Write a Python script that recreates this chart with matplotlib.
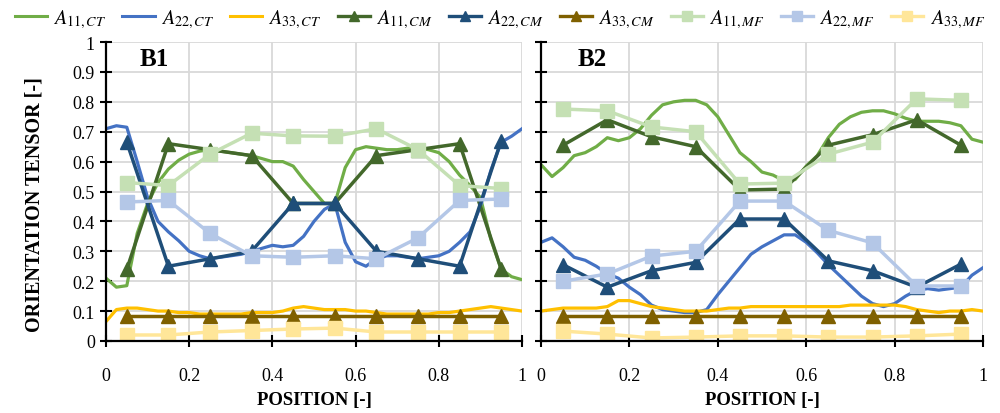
from __future__ import annotations

import matplotlib

matplotlib.use("Agg")
import matplotlib.pyplot as plt
import numpy as np
from matplotlib.lines import Line2D


# sampling positions of the continuous CT profiles and of the discrete CM/MF points
POS_CT = np.linspace(0.0, 1.0, 41)
POS_PTS = [0.05, 0.15, 0.25, 0.35, 0.45, 0.55, 0.65, 0.75, 0.85, 0.95]

# ---- B1 ----
B1_A11_CT = [0.21, 0.18, 0.185, 0.36, 0.46, 0.53, 0.575, 0.605, 0.625, 0.635, 0.64,
             0.635, 0.63, 0.625, 0.62, 0.61, 0.60, 0.60, 0.585, 0.54, 0.50, 0.46,
             0.46, 0.58, 0.64, 0.65, 0.645, 0.64, 0.64, 0.645, 0.645, 0.64, 0.63,
             0.60, 0.555, 0.52, 0.48, 0.34, 0.24, 0.215, 0.205]
B1_A22_CT = [0.71, 0.72, 0.715, 0.60, 0.48, 0.40, 0.365, 0.335, 0.30, 0.285, 0.275,
             0.28, 0.285, 0.29, 0.30, 0.31, 0.32, 0.315, 0.32, 0.35, 0.40, 0.44,
             0.46, 0.33, 0.265, 0.25, 0.275, 0.285, 0.285, 0.28, 0.275, 0.28, 0.285,
             0.30, 0.33, 0.365, 0.45, 0.57, 0.665, 0.685, 0.71]
B1_A33_CT = [0.065, 0.105, 0.11, 0.11, 0.105, 0.10, 0.10, 0.095, 0.095, 0.09, 0.09,
             0.09, 0.09, 0.09, 0.095, 0.095, 0.095, 0.10, 0.11, 0.115, 0.11, 0.105,
             0.105, 0.105, 0.10, 0.10, 0.095, 0.09, 0.09, 0.09, 0.09, 0.09, 0.095,
             0.095, 0.10, 0.105, 0.11, 0.115, 0.11, 0.105, 0.10]
B1_A11_CM = [0.24, 0.66, 0.64, 0.62, 0.46, 0.46, 0.62, 0.64, 0.66, 0.24]
B1_A22_CM = [0.665, 0.25, 0.275, 0.30, 0.46, 0.46, 0.30, 0.275, 0.25, 0.67]
B1_A33_CM = [0.085, 0.085, 0.085, 0.085, 0.085, 0.085, 0.085, 0.085, 0.085, 0.085]
B1_A11_MF = [0.53, 0.52, 0.625, 0.695, 0.686, 0.685, 0.71, 0.64, 0.52, 0.51]
B1_A22_MF = [0.465, 0.47, 0.36, 0.285, 0.28, 0.285, 0.275, 0.345, 0.47, 0.475]
B1_A33_MF = [0.02, 0.02, 0.03, 0.035, 0.04, 0.043, 0.03, 0.03, 0.03, 0.03]

# ---- B2 ----
B2_A11_CT = [0.59, 0.55, 0.58, 0.62, 0.63, 0.65, 0.68, 0.67, 0.68, 0.71, 0.755,
             0.79, 0.80, 0.805, 0.805, 0.79, 0.75, 0.69, 0.63, 0.60, 0.565, 0.555,
             0.535, 0.54, 0.585, 0.62, 0.68, 0.725, 0.75, 0.765, 0.77, 0.77, 0.76,
             0.745, 0.735, 0.735, 0.735, 0.73, 0.72, 0.675, 0.665]
B2_A22_CT = [0.33, 0.345, 0.315, 0.28, 0.27, 0.25, 0.225, 0.21, 0.18, 0.155, 0.12,
             0.105, 0.10, 0.095, 0.095, 0.105, 0.155, 0.20, 0.245, 0.29, 0.315, 0.335,
             0.355, 0.355, 0.33, 0.295, 0.255, 0.22, 0.185, 0.15, 0.125, 0.115, 0.125,
             0.15, 0.17, 0.175, 0.17, 0.175, 0.18, 0.22, 0.245]
B2_A33_CT = [0.10, 0.105, 0.11, 0.11, 0.11, 0.11, 0.115, 0.135, 0.135, 0.125, 0.115,
             0.11, 0.105, 0.10, 0.10, 0.10, 0.105, 0.11, 0.11, 0.115, 0.115, 0.115,
             0.115, 0.115, 0.115, 0.115, 0.115, 0.115, 0.12, 0.12, 0.12, 0.12, 0.12,
             0.115, 0.105, 0.10, 0.095, 0.10, 0.10, 0.105, 0.10]
B2_A11_CM = [0.655, 0.74, 0.683, 0.65, 0.505, 0.508, 0.655, 0.69, 0.74, 0.655]
B2_A22_CM = [0.255, 0.18, 0.235, 0.263, 0.408, 0.408, 0.268, 0.235, 0.18, 0.257]
B2_A33_CM = [0.085, 0.085, 0.085, 0.085, 0.085, 0.085, 0.085, 0.085, 0.085, 0.085]
B2_A11_MF = [0.776, 0.77, 0.716, 0.70, 0.525, 0.528, 0.625, 0.665, 0.81, 0.805]
B2_A22_MF = [0.20, 0.224, 0.284, 0.30, 0.468, 0.468, 0.37, 0.328, 0.184, 0.184]
B2_A33_MF = [0.033, 0.023, 0.01, 0.013, 0.017, 0.017, 0.013, 0.013, 0.017, 0.023]

PANEL_NAMES = ["B1", "B2"]
LABELS = [r"$A_{11,CT}$", r"$A_{22,CT}$", r"$A_{33,CT}$",
          r"$A_{11,CM}$", r"$A_{22,CM}$", r"$A_{33,CM}$",
          r"$A_{11,MF}$", r"$A_{22,MF}$", r"$A_{33,MF}$"]

CT_COLORS = ["#70AD47", "#4472C4", "#FFC000"]
CM_COLORS = ["#43682B", "#1F4E79", "#7F6000"]
MF_COLORS = ["#C5E0B4", "#B4C7E7", "#FFE699"]


def draw_panel(ax, ct, cm, mf, name, show_ylabels):
    for y, c in zip(ct, CT_COLORS):
        ax.plot(POS_CT, y, color=c, lw=2.3, zorder=3)
    for y, c in zip(cm, CM_COLORS):
        ax.plot(POS_PTS, y, color=c, lw=2.5, marker="^", ms=10, zorder=4)
    for y, c in zip(mf, MF_COLORS):
        ax.plot(POS_PTS, y, color=c, lw=2.5, marker="s", ms=9.5, zorder=5)

    ax.set_xlim(0, 1)
    ax.set_ylim(0, 1)
    ax.set_xticks(np.arange(0, 1.01, 0.2))
    ax.set_yticks(np.arange(0, 1.01, 0.1))
    ax.set_xticklabels(["0", "0.2", "0.4", "0.6", "0.8", "1"])
    if show_ylabels:
        ax.set_yticklabels(["0", "0.1", "0.2", "0.3", "0.4", "0.5", "0.6", "0.7", "0.8", "0.9", "1"])
    else:
        ax.set_yticklabels([])
    ax.grid(True, color="#D9D9D9", lw=1.3, zorder=0)
    ax.set_axisbelow(True)
    for side in ("top", "right"):
        ax.spines[side].set_visible(False)
    for side in ("left", "bottom"):
        ax.spines[side].set_linewidth(1.6)
        ax.spines[side].set_color("black")
        ax.spines[side].set_zorder(6)
    ax.tick_params(axis="both", direction="inout", length=9, width=1.5, labelsize=13)
    ax.tick_params(axis="x", pad=14)
    ax.set_xlabel("POSITION [-]", fontsize=13.5, fontweight="bold", labelpad=5)
    ax.text(0.115, 0.945, name, transform=ax.transAxes, ha="center", va="center",
            fontsize=18, fontweight="bold", zorder=7)


def main() -> None:
    plt.rcParams["font.family"] = ["Liberation Serif", "DejaVu Serif"]
    plt.rcParams["mathtext.fontset"] = "stix"

    fig = plt.figure(figsize=(10, 4.14), dpi=100)
    ax1 = fig.add_axes([0.106, 0.174, 0.416, 0.722])
    ax2 = fig.add_axes([0.541, 0.174, 0.442, 0.722])

    draw_panel(ax1, [B1_A11_CT, B1_A22_CT, B1_A33_CT], [B1_A11_CM, B1_A22_CM, B1_A33_CM],
               [B1_A11_MF, B1_A22_MF, B1_A33_MF], PANEL_NAMES[0], True)
    draw_panel(ax2, [B2_A11_CT, B2_A22_CT, B2_A33_CT], [B2_A11_CM, B2_A22_CM, B2_A33_CM],
               [B2_A11_MF, B2_A22_MF, B2_A33_MF], PANEL_NAMES[1], False)
    ax1.set_ylabel("ORIENTATION TENSOR [-]", fontsize=14.5, fontweight="bold")
    ax1.yaxis.set_label_coords(-0.148, 0.46)

    handles = [Line2D([], [], color=c, lw=2.2) for c in CT_COLORS]
    handles += [Line2D([], [], color=c, lw=2.4, marker="^", ms=7) for c in CM_COLORS]
    handles += [Line2D([], [], color=c, lw=2.4, marker="s", ms=6.5) for c in MF_COLORS]
    fig.legend(handles, LABELS, loc="upper center", bbox_to_anchor=(0.5, 1.025), ncol=9,
               frameon=False, fontsize=14.5, handlelength=1.6, handletextpad=0.3,
               columnspacing=0.8)

    fig.savefig("out.png", dpi=100)
    plt.close(fig)


if __name__ == "__main__":
    main()
